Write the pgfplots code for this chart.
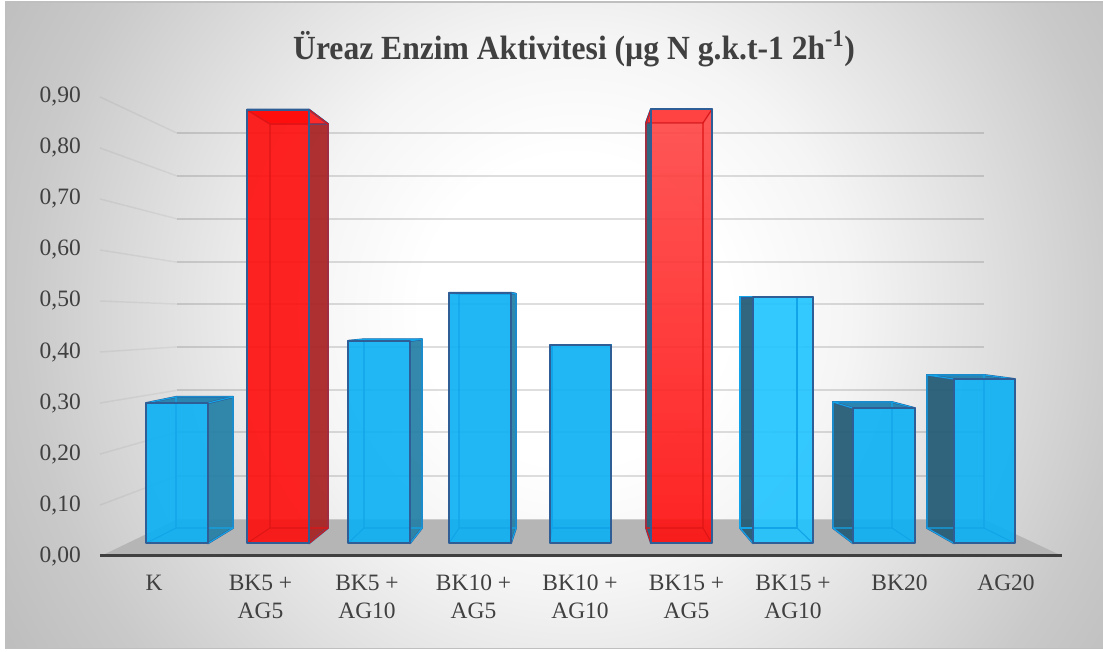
\documentclass[border=0pt]{standalone}
\usepackage{fontspec}
\setmainfont{Liberation Serif}
\usepackage{graphicx}
\usepackage{pgfplots}
\pgfplotsset{compat=1.18}

\definecolor{txt}{HTML}{404040}
\definecolor{edge}{HTML}{2F5D96}
\definecolor{floorc}{HTML}{B5B5B5}
\definecolor{blue1}{RGB}{9,176,244}
\definecolor{blue2}{RGB}{30,195,255}
\definecolor{blueside}{HTML}{2480A5}
\definecolor{bluedark}{HTML}{235B75}
\definecolor{bluetop}{HTML}{2A86B0}
\definecolor{blueline}{HTML}{12A4E8}
\definecolor{red1}{RGB}{255,12,12}
\definecolor{redtop}{HTML}{FF2A2A}
\definecolor{redside}{HTML}{A92222}
\definecolor{redline}{HTML}{DE1515}
% background glow, radii in bp at natural size
\pgfdeclareradialshading{glow}{\pgfpoint{0bp}{0bp}}{%
  color(0bp)=(white); color(115bp)=(white); color(206bp)=(black!4);
  color(305bp)=(black!12); color(412bp)=(black!21); color(535bp)=(black!28); color(824bp)=(black!28)}

% side face of a box: x front, x back, y top front, y top back, colour
\newcommand{\sideface}[5]{%
  \addplot[draw=edge,line width=1.4pt,line join=round,fill=#5,fill opacity=.93,mark=none]
    coordinates {(#1,#3) (#2,#4) (#2,0.055) (#1,0.025)} --cycle;}
% front box: fl fr bl br y-top-front y-top-back, fill options, top colour, inner line colour
\newcommand{\frontface}[9]{%
  \addplot[draw=edge,line width=1.4pt,line join=round,fill=#8,mark=none]
    coordinates {(#1,#5) (#2,#5) (#4,#6) (#3,#6)} --cycle;
  \addplot[draw=none,#7,fill opacity=.9,mark=none]
    coordinates {(#1,#5) (#2,#5) (#2,0.025) (#1,0.025)} --cycle;
  \addplot[draw=#9,line width=.8pt,mark=none]
    coordinates {(#1,#5) (#3,#6) (#3,0.055) (#4,0.055) (#4,#6) (#3,#6)};
  \addplot[draw=#9,line width=.8pt,mark=none] coordinates {(#3,0.055) (#1,0.025)};
  \addplot[draw=#9,line width=.8pt,mark=none] coordinates {(#4,0.055) (#2,0.025)};
  \addplot[draw=#9,line width=.8pt,mark=none] coordinates {(#4,#6) (#2,#5)};
  \addplot[draw=edge,line width=1.4pt,line join=round,mark=none]
    coordinates {(#1,#5) (#2,#5) (#2,0.025) (#1,0.025)} --cycle;}
% wall grid line: tick value on the left, height on the back wall
\newcommand{\wallline}[2]{%
  \addplot[black,draw opacity=.05,line width=1.1pt,mark=none] coordinates {(100,#1) (177,#2)};
  \addplot[black,draw opacity=.13,line width=1.3pt,mark=none] coordinates {(177,#2) (984,#2)};}

\begin{document}
\begin{tikzpicture}
\begin{axis}[
  set layers=standard,
  scale only axis,
  width=827.25pt,
  height=489pt,
  xmin=0, xmax=1103,
  ymin=-0.188, ymax=1.090,
  axis line style={draw=none},
  major tick length=0pt,
  tick style={draw=none},
  ytick={0,0.1,0.2,0.3,0.4,0.5,0.6,0.7,0.8,0.9},
  yticklabels={{0,00},{0,10},{0,20},{0,30},{0,40},{0,50},{0,60},{0,70},{0,80},{0,90}},
  xtick={154,260.5,367,473.5,580,686.5,793,899.5,1006},
  xticklabels={K,{BK5 +\\AG5},{BK5 +\\AG10},{BK10 +\\AG5},{BK10 +\\AG10},{BK15 +\\AG5},{BK15 +\\AG10},BK20,AG20},
  yticklabel style={font=\fontsize{17.6}{21}\selectfont,text=txt,inner sep=0pt,xshift=60.75pt},
  xticklabel style={font=\fontsize{17.6}{21}\selectfont,text=txt,inner sep=0pt,align=center,anchor=north,yshift=58pt},
]
% chart area
\begin{pgfonlayer}{axis background}
\begin{scope}
  \clip (axis cs:6,1.086) rectangle (axis cs:1103,-0.182);
  \node[overlay,inner sep=0pt] at (axis cs:575,0.482) {\pgfuseshading{glow}};
\end{scope}
\draw[black!25,line width=.8pt] (axis cs:1103,1.086) -- (axis cs:6,1.086) -- (axis cs:6,-0.182) -- (axis cs:1103,-0.182);
\end{pgfonlayer}

% walls
\wallline{0.9}{0.829}
\wallline{0.8}{0.745}
\wallline{0.7}{0.661}
\wallline{0.6}{0.576}
\wallline{0.5}{0.494}
\wallline{0.4}{0.410}
\wallline{0.3}{0.325}
\wallline{0.2}{0.243}
\wallline{0.1}{0.157}

% floor and axis line
\addplot[draw=none,fill=floorc,mark=none] coordinates {(105,0.004) (177,0.072) (984,0.072) (1058,0.004)} --cycle;
\addplot[draw=txt,line width=2pt,mark=none] coordinates {(100,0.001) (1062,0.001)};

% bars, side faces first
\sideface{208}{233}{0.300}{0.312}{blueside}
\frontface{146}{208}{176}{233}{0.300}{0.312}{fill=blue1}{bluetop}{blueline}
\sideface{309}{328}{0.875}{0.847}{redside}
\frontface{247}{309}{270}{328}{0.875}{0.847}{fill=red1}{redtop}{redline}
\sideface{410}{422}{0.422}{0.425}{blueside}
\frontface{348}{410}{364}{422}{0.422}{0.425}{fill=blue1}{bluetop}{blueline}
\sideface{511}{516}{0.516}{0.514}{blueside}
\frontface{449}{511}{459}{516}{0.516}{0.514}{fill=blue1}{blue1}{blueline}
\frontface{550}{611}{552}{611}{0.414}{0.414}{fill=blue1}{blue1}{blueline}
\sideface{651}{646}{0.876}{0.849}{bluedark}
\frontface{651}{712}{646}{703}{0.876}{0.849}{top color={rgb,255:red,255;green,70;blue,70},bottom color=red1}{redtop}{redline}
\sideface{753}{740}{0.508}{0.504}{bluedark}
\frontface{753}{813}{740}{797}{0.508}{0.508}{fill=blue2}{bluetop}{blueline}
\sideface{853}{833}{0.290}{0.302}{bluedark}
\frontface{853}{915}{833}{892}{0.290}{0.302}{fill=blue1}{bluetop}{blueline}
\sideface{954}{927}{0.347}{0.355}{bluedark}
\frontface{954}{1015}{927}{984}{0.347}{0.355}{fill=blue1}{bluetop}{blueline}

\node[anchor=base,text=txt,font=\fontsize{23.7}{28}\selectfont\bfseries] at (axis cs:574,0.973)
  {\scalebox{1}[1.07]{Üreaz Enzim Aktivitesi (µg N g.k.t-1 2h\textsuperscript{-1})}};
\end{axis}
\end{tikzpicture}
\end{document}
